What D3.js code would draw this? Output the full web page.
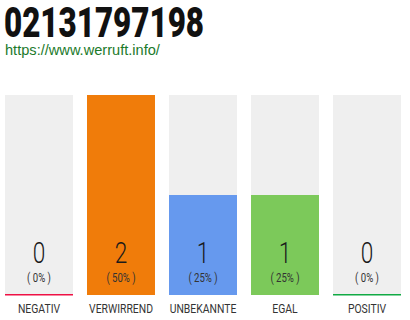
<!DOCTYPE html>
<html>
<head>
<meta charset="utf-8">
<script src="https://cdn.jsdelivr.net/npm/d3@7"></script>
<style>
body { margin: 0; background: #fff; }
svg { display: block; }
</style>
</head>
<body>
<svg></svg>
<script>
var categories = ["NEGATIV", "VERWIRREND", "UNBEKANNTE", "EGAL", "POSITIV"];
var values = [0, 2, 1, 1, 0];
var percents = ["0%", "50%", "25%", "25%", "0%"];
var barColors = ["#efefef", "#f07c0a", "#6699ee", "#7cc95a", "#efefef"];
var baseColors = ["#ee1144", null, null, null, "#11aa44"];
var titleText = "02131797198";
var linkText = "https://www.werruft.info/";

var width = 410, height = 320;
var svg = d3.select("svg").attr("width", width).attr("height", height);

// title, squeezed to look condensed
svg.append("text")
  .attr("transform", "translate(4,37) scale(0.73,1)")
  .attr("font-family", "Roboto")
  .attr("font-weight", 900)
  .attr("font-size", 43)
  .attr("fill", "#111")
  .text(titleText);

svg.append("text")
  .attr("x", 5)
  .attr("y", 55)
  .attr("font-family", "Liberation Sans")
  .attr("font-size", 14.6)
  .attr("fill", "#1b7a2b")
  .text(linkText);

var x = d3.scaleBand()
  .domain(categories)
  .range([5, 401])
  .paddingInner(0.171)
  .paddingOuter(0);

var y = d3.scaleLinear()
  .domain([0, d3.max(values)])
  .range([295, 95]);

var g = svg.selectAll("g.bar")
  .data(categories)
  .enter().append("g")
  .attr("class", "bar");

g.append("rect")
  .attr("x", function (d) { return x(d); })
  .attr("y", y(d3.max(values)))
  .attr("width", x.bandwidth())
  .attr("height", y(0) - y(d3.max(values)))
  .attr("fill", "#efefef");

g.append("rect")
  .attr("x", function (d) { return x(d); })
  .attr("y", function (d, i) { return y(values[i]); })
  .attr("width", x.bandwidth())
  .attr("height", function (d, i) { return y(0) - y(values[i]); })
  .attr("fill", function (d, i) { return barColors[i]; });

g.filter(function (d, i) { return baseColors[i]; })
  .append("rect")
  .attr("x", function (d) { return x(d); })
  .attr("y", y(0) - 1)
  .attr("width", x.bandwidth())
  .attr("height", 1.5)
  .attr("fill", function (d) { return baseColors[categories.indexOf(d)]; });

function condensed(sel, cx, cy, sx) {
  sel.attr("transform", "translate(" + cx + "," + cy + ") scale(" + sx + ",1)")
    .attr("text-anchor", "middle")
    .attr("font-family", "Roboto");
}

g.append("text")
  .each(function (d, i) {
    condensed(d3.select(this), x(d) + x.bandwidth() / 2, 263, 0.78);
  })
  .attr("font-weight", 300)
  .attr("font-size", 29)
  .attr("fill", "#1a1a1a")
  .text(function (d, i) { return values[i]; });

g.append("text")
  .each(function (d, i) {
    condensed(d3.select(this), x(d) + x.bandwidth() / 2, 282, 0.74);
  })
  .attr("font-weight", 400)
  .attr("font-size", 13)
  .attr("fill", "#333")
  .text(function (d, i) { return "( " + percents[i] + " )"; });

g.append("text")
  .each(function (d, i) {
    condensed(d3.select(this), x(d) + x.bandwidth() / 2, 313, 0.8);
  })
  .attr("font-weight", 400)
  .attr("font-size", 13)
  .attr("fill", "#333")
  .text(function (d) { return d; });
</script>
</body>
</html>
